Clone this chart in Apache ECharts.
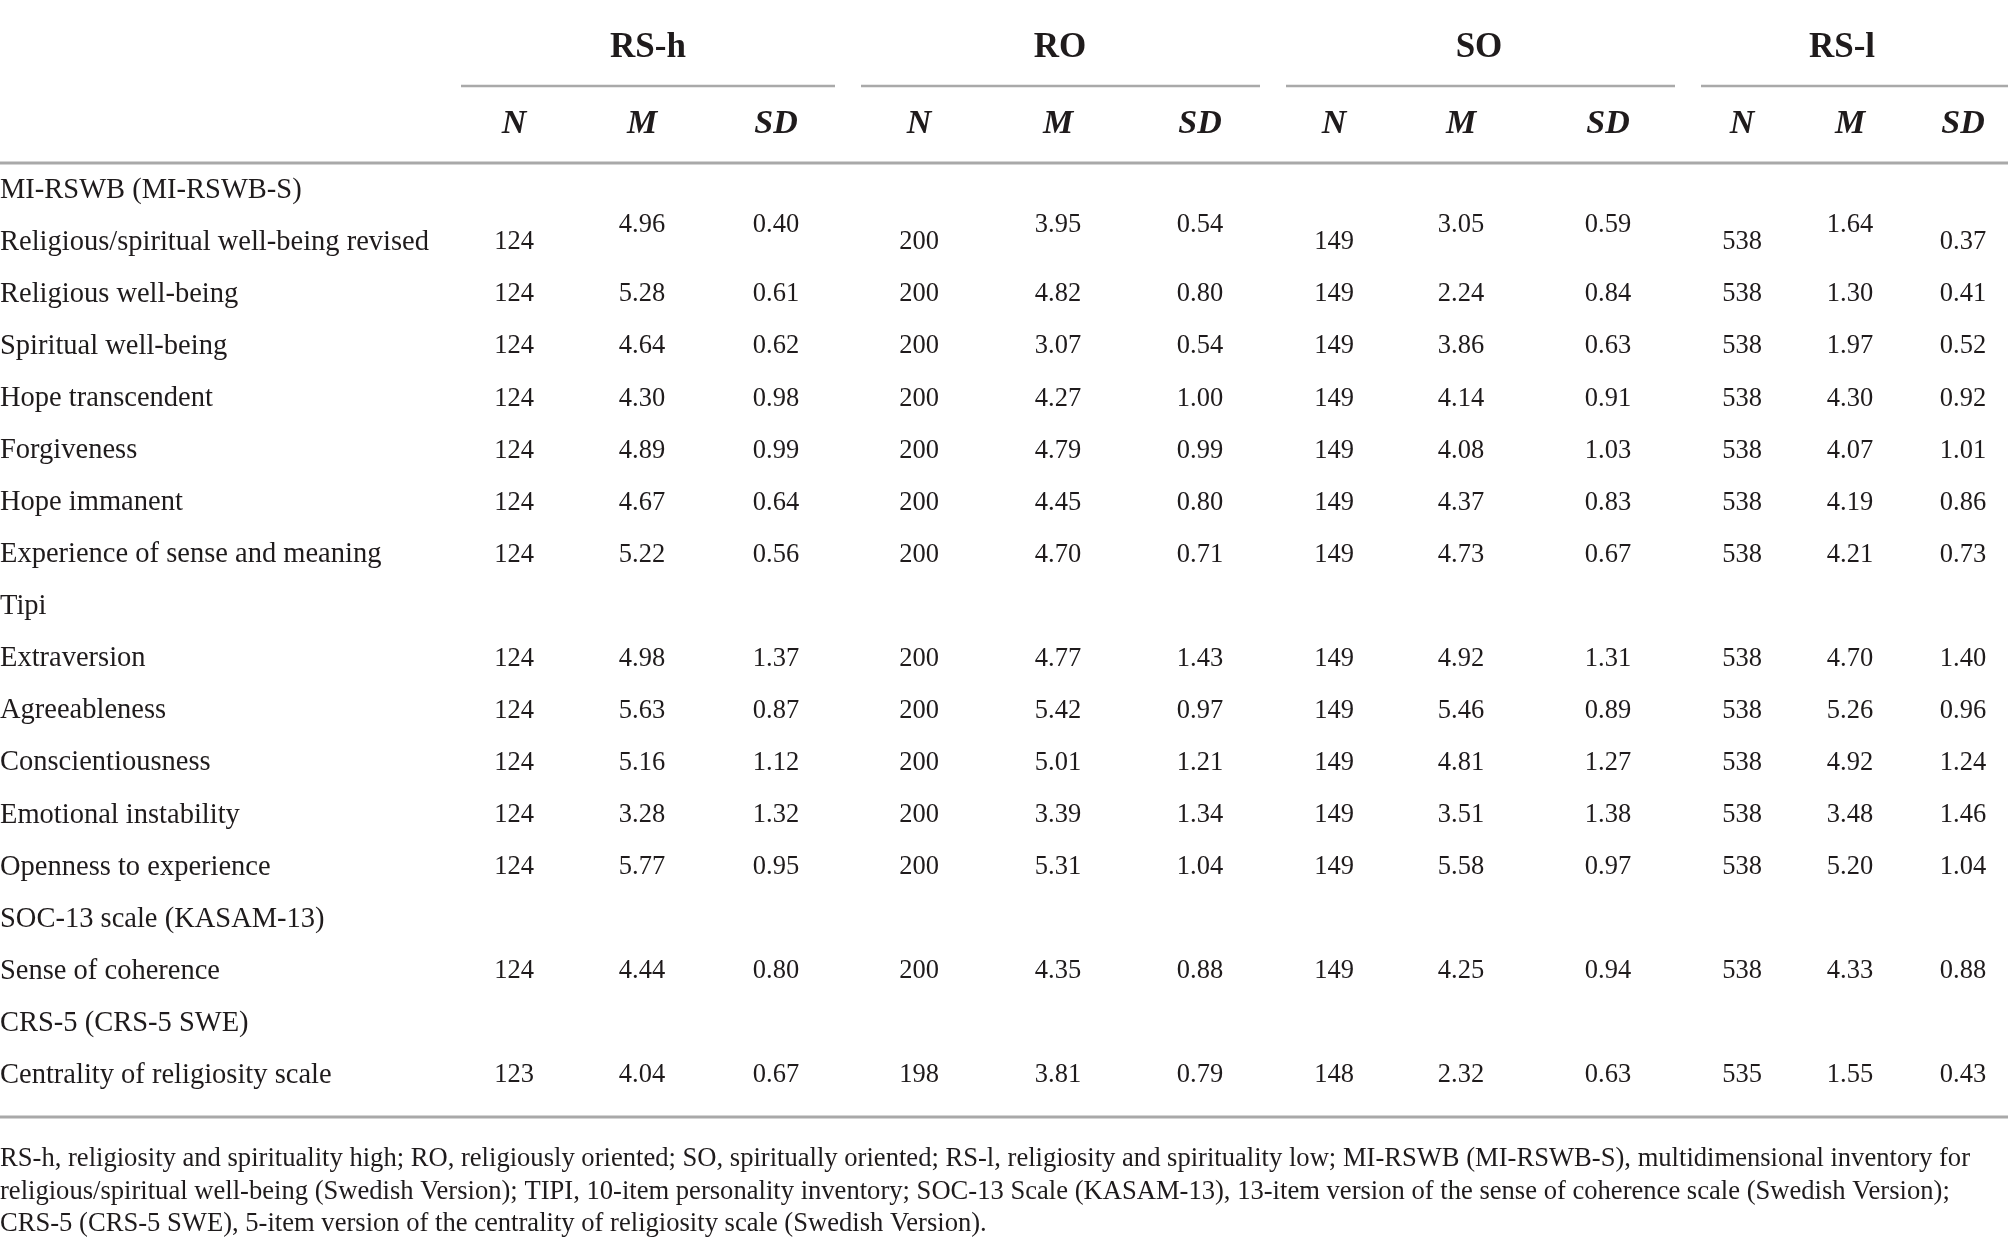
<!DOCTYPE html>
<html>
<head>
<meta charset="utf-8">
<style>
  html, body { margin: 0; padding: 0; background: #ffffff; }
  #table-container { width: 2008px; height: 1251px; }
</style>
<script src="https://cdn.jsdelivr.net/npm/echarts@6/dist/echarts.min.js"></script>
</head>
<body>
<div id="table-container"></div>
<script>
var dom = document.getElementById('table-container');
var myChart = echarts.init(dom, null, { renderer: 'canvas' });

// ---- data ----
const groups = ['RS-h', 'RO', 'SO', 'RS-l'];
const statLabels = ['N', 'M', 'SD'];
const rowLabels = [
  'MI-RSWB (MI-RSWB-S)',
  'Religious/spiritual well-being revised',
  'Religious well-being',
  'Spiritual well-being',
  'Hope transcendent',
  'Forgiveness',
  'Hope immanent',
  'Experience of sense and meaning',
  'Tipi',
  'Extraversion',
  'Agreeableness',
  'Conscientiousness',
  'Emotional instability',
  'Openness to experience',
  'SOC-13 scale (KASAM-13)',
  'Sense of coherence',
  'CRS-5 (CRS-5 SWE)',
  'Centrality of religiosity scale'
];
// null = section heading row
const rsH_N  = [null, 124, 124, 124, 124, 124, 124, 124, null, 124, 124, 124, 124, 124, null, 124, null, 123];
const rsH_M  = [null, 4.96, 5.28, 4.64, 4.30, 4.89, 4.67, 5.22, null, 4.98, 5.63, 5.16, 3.28, 5.77, null, 4.44, null, 4.04];
const rsH_SD = [null, 0.40, 0.61, 0.62, 0.98, 0.99, 0.64, 0.56, null, 1.37, 0.87, 1.12, 1.32, 0.95, null, 0.80, null, 0.67];
const ro_N   = [null, 200, 200, 200, 200, 200, 200, 200, null, 200, 200, 200, 200, 200, null, 200, null, 198];
const ro_M   = [null, 3.95, 4.82, 3.07, 4.27, 4.79, 4.45, 4.70, null, 4.77, 5.42, 5.01, 3.39, 5.31, null, 4.35, null, 3.81];
const ro_SD  = [null, 0.54, 0.80, 0.54, 1.00, 0.99, 0.80, 0.71, null, 1.43, 0.97, 1.21, 1.34, 1.04, null, 0.88, null, 0.79];
const so_N   = [null, 149, 149, 149, 149, 149, 149, 149, null, 149, 149, 149, 149, 149, null, 149, null, 148];
const so_M   = [null, 3.05, 2.24, 3.86, 4.14, 4.08, 4.37, 4.73, null, 4.92, 5.46, 4.81, 3.51, 5.58, null, 4.25, null, 2.32];
const so_SD  = [null, 0.59, 0.84, 0.63, 0.91, 1.03, 0.83, 0.67, null, 1.31, 0.89, 1.27, 1.38, 0.97, null, 0.94, null, 0.63];
const rsL_N  = [null, 538, 538, 538, 538, 538, 538, 538, null, 538, 538, 538, 538, 538, null, 538, null, 535];
const rsL_M  = [null, 1.64, 1.30, 1.97, 4.30, 4.07, 4.19, 4.21, null, 4.70, 5.26, 4.92, 3.48, 5.20, null, 4.33, null, 1.55];
const rsL_SD = [null, 0.37, 0.41, 0.52, 0.92, 1.01, 0.86, 0.73, null, 1.40, 0.96, 1.24, 1.46, 1.04, null, 0.88, null, 0.43];
const columns = [rsH_N, rsH_M, rsH_SD, ro_N, ro_M, ro_SD, so_N, so_M, so_SD, rsL_N, rsL_M, rsL_SD];
const footnotes = [
  'RS-h, religiosity and spirituality high; RO, religiously oriented; SO, spiritually oriented; RS-l, religiosity and spirituality low; MI-RSWB (MI-RSWB-S), multidimensional inventory for',
  'religious/spiritual well-being (Swedish Version); TIPI, 10-item personality inventory; SOC-13 Scale (KASAM-13), 13-item version of the sense of coherence scale (Swedish Version);',
  'CRS-5 (CRS-5 SWE), 5-item version of the centrality of religiosity scale (Swedish Version).'
];

// ---- layout ----
const colX = [514, 642, 776, 919, 1058, 1200, 1334, 1461, 1608, 1742, 1850, 1963];
const groupSpan = [[461, 835], [861, 1260], [1286, 1675], [1701, 2008]];
const groupTitleX = [648, 1060, 1479, 1842];
const raisedCells = { 1: [1, 2, 4, 5, 7, 8, 10] };  // row -> data columns drawn a bit higher
const ink = '#1f1b1c';
const ruleColor = '#a9a9a9';
const serif = '"Liberation Serif", "DejaVu Serif", serif';
const rowH = 52.06;

// body cells
const cells = [];
rowLabels.forEach(function (label, r) {
  cells.push({ value: [0, r], text: label, align: 'left', size: 28.5 });
  columns.forEach(function (col, c) {
    const v = col[r];
    if (v === null) return;
    const txt = (c % 3 === 0) ? String(v) : v.toFixed(2);
    const raised = raisedCells[r] && raisedCells[r].indexOf(c) >= 0;
    cells.push({ value: [colX[c], r], text: txt, align: 'center', size: 26.5, dy: raised ? -17 : 0 });
  });
});

// header cells
const headCells = [];
groups.forEach(function (g, i) {
  headCells.push({ value: [groupTitleX[i], 0], text: g, kind: 'group' });
  headCells.push({ value: [groupSpan[i][0], 0], kind: 'line', x2: groupSpan[i][1] });
  statLabels.forEach(function (s, k) {
    headCells.push({ value: [colX[i * 3 + k], 1], text: s, kind: 'stat' });
  });
});

option = {
  backgroundColor: '#ffffff',
  animation: false,
  grid: [
    { left: 0, right: 0, top: 164.3, height: rowH * rowLabels.length },
    { left: 0, right: 0, top: 9, height: 154 }
  ],
  xAxis: [
    { type: 'value', gridIndex: 0, min: 0, max: 2008, show: false },
    { type: 'value', gridIndex: 1, min: 0, max: 2008, show: false }
  ],
  yAxis: [
    { type: 'category', gridIndex: 0, data: rowLabels, inverse: true, show: false },
    { type: 'category', gridIndex: 1, data: ['group', 'stat'], inverse: true, show: false }
  ],
  series: [
    {
      type: 'custom',
      xAxisIndex: 0,
      yAxisIndex: 0,
      data: cells,
      renderItem: function (params, api) {
        const item = cells[params.dataIndex];
        const p = api.coord([api.value(0), api.value(1)]);
        return {
          type: 'text',
          x: p[0],
          y: p[1] + (item.dy || 0),
          style: {
            text: item.text,
            textAlign: item.align,
            textVerticalAlign: 'middle',
            fontFamily: serif,
            fontSize: item.size,
            fill: ink
          }
        };
      }
    },
    {
      type: 'custom',
      xAxisIndex: 1,
      yAxisIndex: 1,
      data: headCells,
      renderItem: function (params, api) {
        const item = headCells[params.dataIndex];
        const p = api.coord([api.value(0), api.value(1)]);
        if (item.kind === 'line') {
          const p2 = api.coord([item.x2, api.value(1)]);
          return {
            type: 'line',
            shape: { x1: p[0], y1: p[1] + 38.5, x2: p2[0], y2: p[1] + 38.5 },
            style: { stroke: ruleColor, lineWidth: 2.5 }
          };
        }
        return {
          type: 'text',
          x: p[0],
          y: p[1],
          style: {
            text: item.text,
            textAlign: 'center',
            textVerticalAlign: 'middle',
            fontFamily: serif,
            fontSize: item.kind === 'group' ? 35 : 34,
            fontWeight: 'bold',
            fontStyle: item.kind === 'stat' ? 'italic' : 'normal',
            fill: ink
          }
        };
      }
    }
  ],
  graphic: [
    { type: 'line', shape: { x1: 0, y1: 163, x2: 2008, y2: 163 }, style: { stroke: ruleColor, lineWidth: 3 } },
    { type: 'line', shape: { x1: 0, y1: 1117, x2: 2008, y2: 1117 }, style: { stroke: ruleColor, lineWidth: 3 } }
  ].concat(footnotes.map(function (t, i) {
    return {
      type: 'text',
      x: 0,
      y: 1159.5 + i * 32.5,
      style: { text: t, fontFamily: serif, fontSize: 26.6, textVerticalAlign: 'middle', fill: ink }
    };
  }))
};

myChart.setOption(option);
window.addEventListener('resize', myChart.resize);
</script>
</body>
</html>
